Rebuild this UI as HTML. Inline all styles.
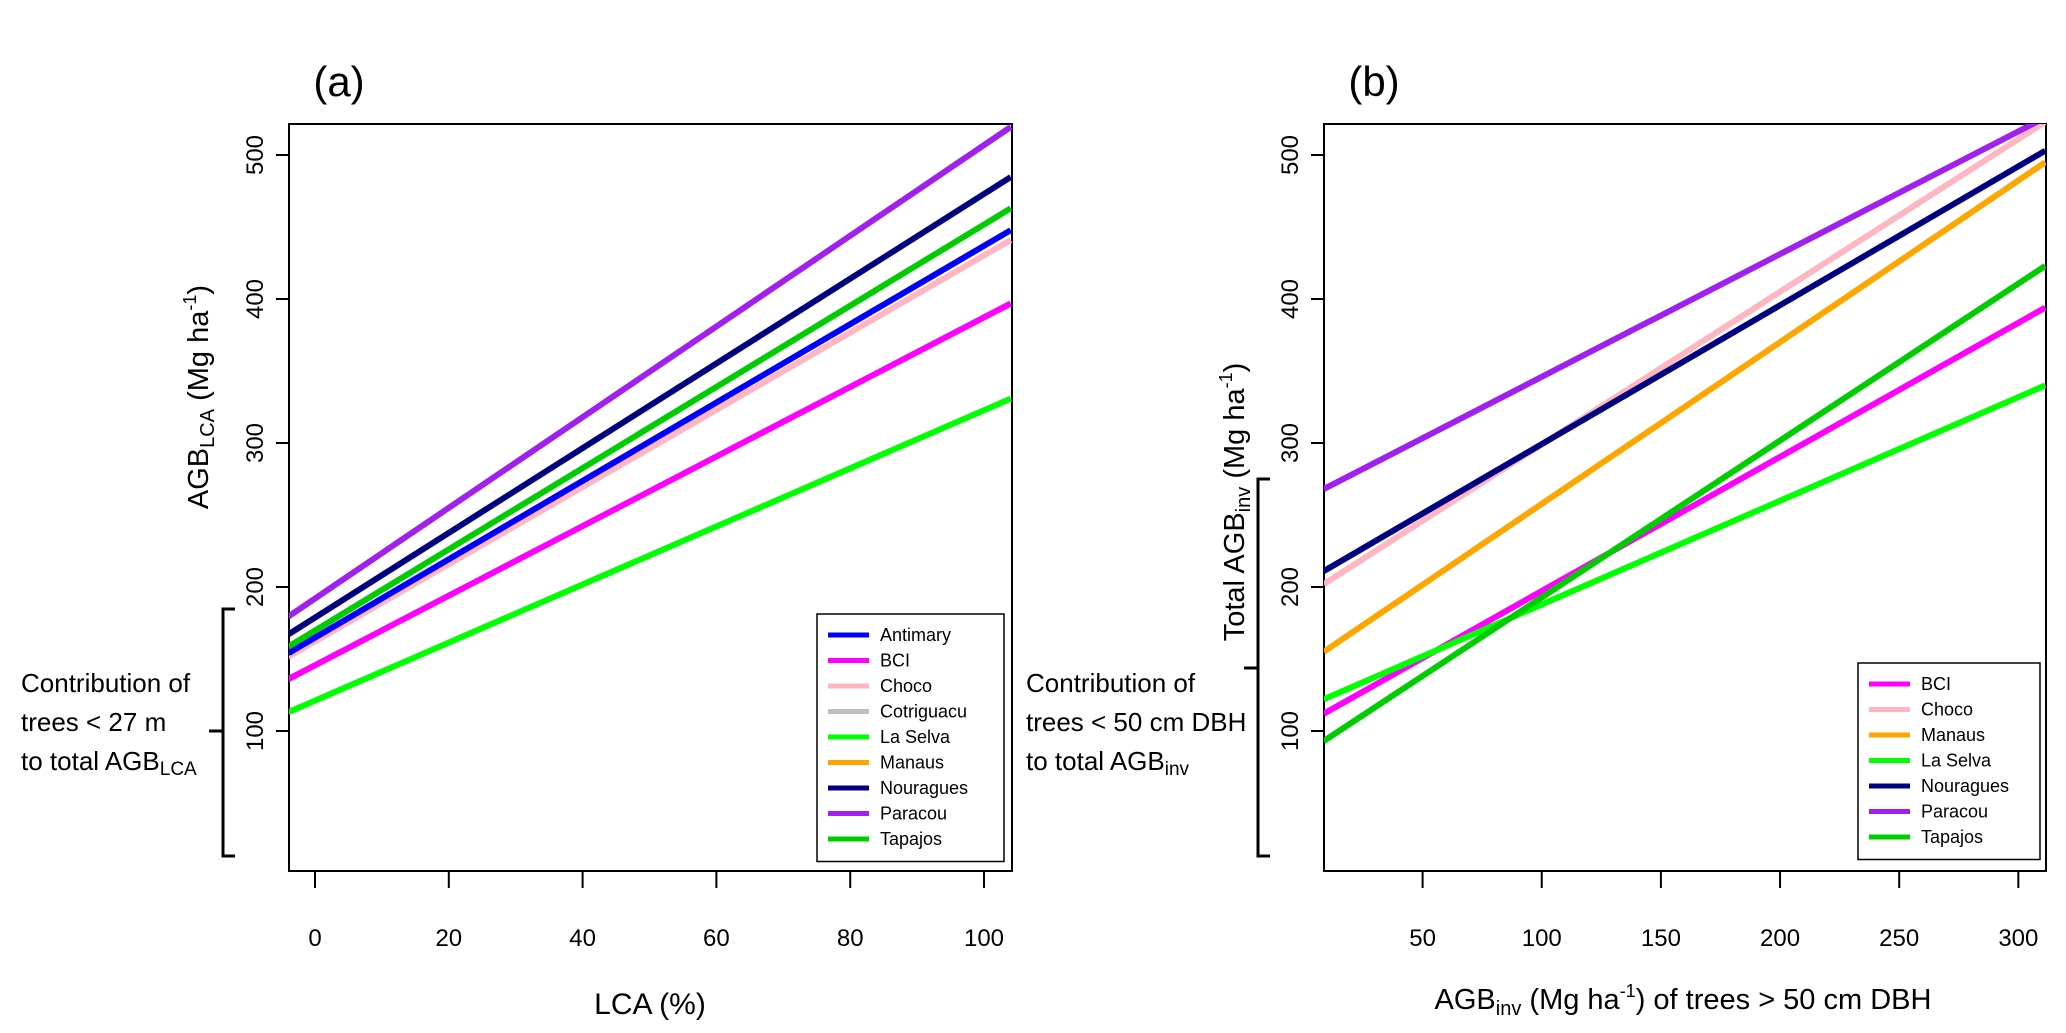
<!DOCTYPE html>
<html><head><meta charset="utf-8"><style>
body{margin:0;background:#fff;}
svg{display:block;font-family:"Liberation Sans",sans-serif;}
</style></head><body>
<svg id="root" width="2066" height="1033" viewBox="0 0 2066 1033">
<defs>
<clipPath id="clipA"><rect x="289" y="124" width="723" height="747"/></clipPath>
<clipPath id="clipB"><rect x="1324" y="124" width="722" height="747"/></clipPath>
</defs>
<g id="panelA"></g>
<g id="panelB"></g>
</svg>
<script>
// ---- Panel (a) data ----
const aSeries = ["Antimary","BCI","Choco","Tapajos","Nouragues","Paracou","La Selva"];
const aColors = ["#0000FF","#FF00FF","#FFB6C1","#00CD00","#000080","#A020F0","#00FF00"];
const aXStart = -4, aXEnd = 104;
const aStartVals = [154, 136, 151.5, 158.5, 167, 179.4, 113];
const aEndVals = [447.8, 396.9, 441, 463, 484.7, 519.5, 330.8];
const aDrawOrder = ["BCI","Choco","Antimary","Tapajos","Nouragues","Paracou","La Selva"];
const aLegendNames = ["Antimary","BCI","Choco","Cotriguacu","La Selva","Manaus","Nouragues","Paracou","Tapajos"];
const aLegendColors = ["#0000FF","#FF00FF","#FFB6C1","#BEBEBE","#00FF00","#FFA500","#000080","#A020F0","#00CD00"];
const aXTicks = [0,20,40,60,80,100];
const yTicks = [100,200,300,400,500];
// ---- Panel (b) data ----
const bSeries = ["BCI","Choco","Manaus","La Selva","Nouragues","Paracou","Tapajos"];
const bColors = ["#FF00FF","#FFB6C1","#FFA500","#00FF00","#000080","#A020F0","#00CD00"];
const bXStart = 8.5, bXEnd = 311.3;
const bStartVals = [112, 202, 155, 122, 211, 268, 93];
const bEndVals = [394, 523, 495, 340, 503, 526, 423];
const bXTicks = [50,100,150,200,250,300];

const NS="http://www.w3.org/2000/svg";
const BOTTOM=871;
function el(tag, attrs, parent){const e=document.createElementNS(NS,tag);for(const k in attrs)e.setAttribute(k,attrs[k]);parent.appendChild(e);return e;}
function yS(v){return 731 - (v-100)*1.44;}
function axA(v){return 315 + v*6.69;}
function axB(v){return 1422.6 + (v-50)*2.383;}

function panel(g, xS, box, xTicks, clipId, series, colors, x0, x1, sVals, eVals, order){
  const frame=el('rect',{x:box[0],y:124,width:box[1]-box[0],height:BOTTOM-124,fill:'none',stroke:'#000','stroke-width':2},g);
  
  
  const lg=el('g',{'clip-path':'url(#'+clipId+')'},g);
  
  
  order.forEach(n=>{
    const i=series.indexOf(n);
    const l=el('line',{x1:xS(x0),y1:yS(sVals[i]),x2:xS(x1),y2:yS(eVals[i]),stroke:colors[i],'stroke-width':6},lg);
    
    
  });
  xTicks.forEach(t=>{
    const x=xS(t);
    const tk=el('line',{x1:x,y1:BOTTOM,x2:x,y2:BOTTOM+17,stroke:'#000','stroke-width':2},g);
    
    
    const tx=el('text',{x:x,y:946,'font-size':24,'text-anchor':'middle'},g);
    tx.textContent=t;
    
    
  });
  yTicks.forEach(t=>{
    const y=yS(t);
    const tk=el('line',{x1:box[0]-13,y1:y,x2:box[0],y2:y,stroke:'#000','stroke-width':2},g);
    
    
    const lx=box[0]-26;
    const tx=el('text',{x:lx,y:y,'font-size':24,'text-anchor':'middle',transform:'rotate(-90 '+lx+' '+y+')'},g);
    tx.textContent=t;
    
    
  });
}
function legend(g,x,y,w,names,colors){
  const h=names.length*25.5+18;
  const r=el('rect',{x:x,y:y,width:w,height:h,fill:'#fff',stroke:'#000','stroke-width':1.5},g);
  
  
  names.forEach((n,i)=>{
    const cy=y+21+i*25.5;
    const l=el('line',{x1:x+11,y1:cy,x2:x+52,y2:cy,stroke:colors[i],'stroke-width':5},g);
    
    
    const t=el('text',{x:x+63,y:cy+6,'font-size':18},g);
    t.textContent=n;
    
    
  });
}
function bracket(g,x,y0,y1,ym){
  const p=el('path',{d:`M${x+12},${y0} H${x} V${y1} H${x+12} M${x},${ym} H${x-14}`,fill:'none',stroke:'#000','stroke-width':3},g);
  
  
}
const gA=document.getElementById('panelA'), gB=document.getElementById('panelB');
panel(gA,axA,[289,1012],aXTicks,'clipA',aSeries,aColors,aXStart,aXEnd,aStartVals,aEndVals,aDrawOrder);
panel(gB,axB,[1324,2046],bXTicks,'clipB',bSeries,bColors,bXStart,bXEnd,bStartVals,bEndVals,bSeries);
legend(gA,817,614,187,aLegendNames,aLegendColors);
legend(gB,1858,663,182,bSeries,bColors);
bracket(gA,223,609,856,731);
bracket(gB,1258,479,856,668);
</script>
<svg width="2066" height="1033" style="position:absolute;left:0;top:0">
<text x="339" y="96" font-size="42" text-anchor="middle" font-family="Liberation Sans, sans-serif">(a)</text>
<text x="1374" y="96" font-size="42" text-anchor="middle" font-family="Liberation Sans, sans-serif">(b)</text>
<text x="650" y="1014" font-size="30" text-anchor="middle" font-family="Liberation Sans, sans-serif">LCA (%)</text>
<text x="1683" y="1009" font-size="29" text-anchor="middle" font-family="Liberation Sans, sans-serif">AGB<tspan font-size="20" dy="6">inv</tspan><tspan dy="-6"> (Mg ha</tspan><tspan font-size="18" dy="-12">-1</tspan><tspan dy="12">) of trees &gt; 50 cm DBH</tspan></text>
<text x="208" y="397" font-size="29" text-anchor="middle" transform="rotate(-90 208 397)" font-family="Liberation Sans, sans-serif">AGB<tspan font-size="20" dy="6">LCA</tspan><tspan dy="-6"> (Mg ha</tspan><tspan font-size="18" dy="-12">-1</tspan><tspan dy="12">)</tspan></text>
<text x="1244" y="502" font-size="29" text-anchor="middle" transform="rotate(-90 1244 502)" font-family="Liberation Sans, sans-serif">Total AGB<tspan font-size="20" dy="6">inv</tspan><tspan dy="-6"> (Mg ha</tspan><tspan font-size="18" dy="-12">-1</tspan><tspan dy="12">)</tspan></text>
<g font-size="26" font-family="Liberation Sans, sans-serif">
<text x="21" y="692">Contribution of</text>
<text x="21" y="731">trees &lt; 27 m</text>
<text x="21" y="770">to total AGB<tspan font-size="19" dy="5">LCA</tspan></text>
</g>
<g font-size="26" font-family="Liberation Sans, sans-serif">
<text x="1026" y="692">Contribution of</text>
<text x="1026" y="731">trees &lt; 50 cm DBH</text>
<text x="1026" y="770">to total AGB<tspan font-size="19" dy="5">inv</tspan></text>
</g>
</svg>
</body></html>
